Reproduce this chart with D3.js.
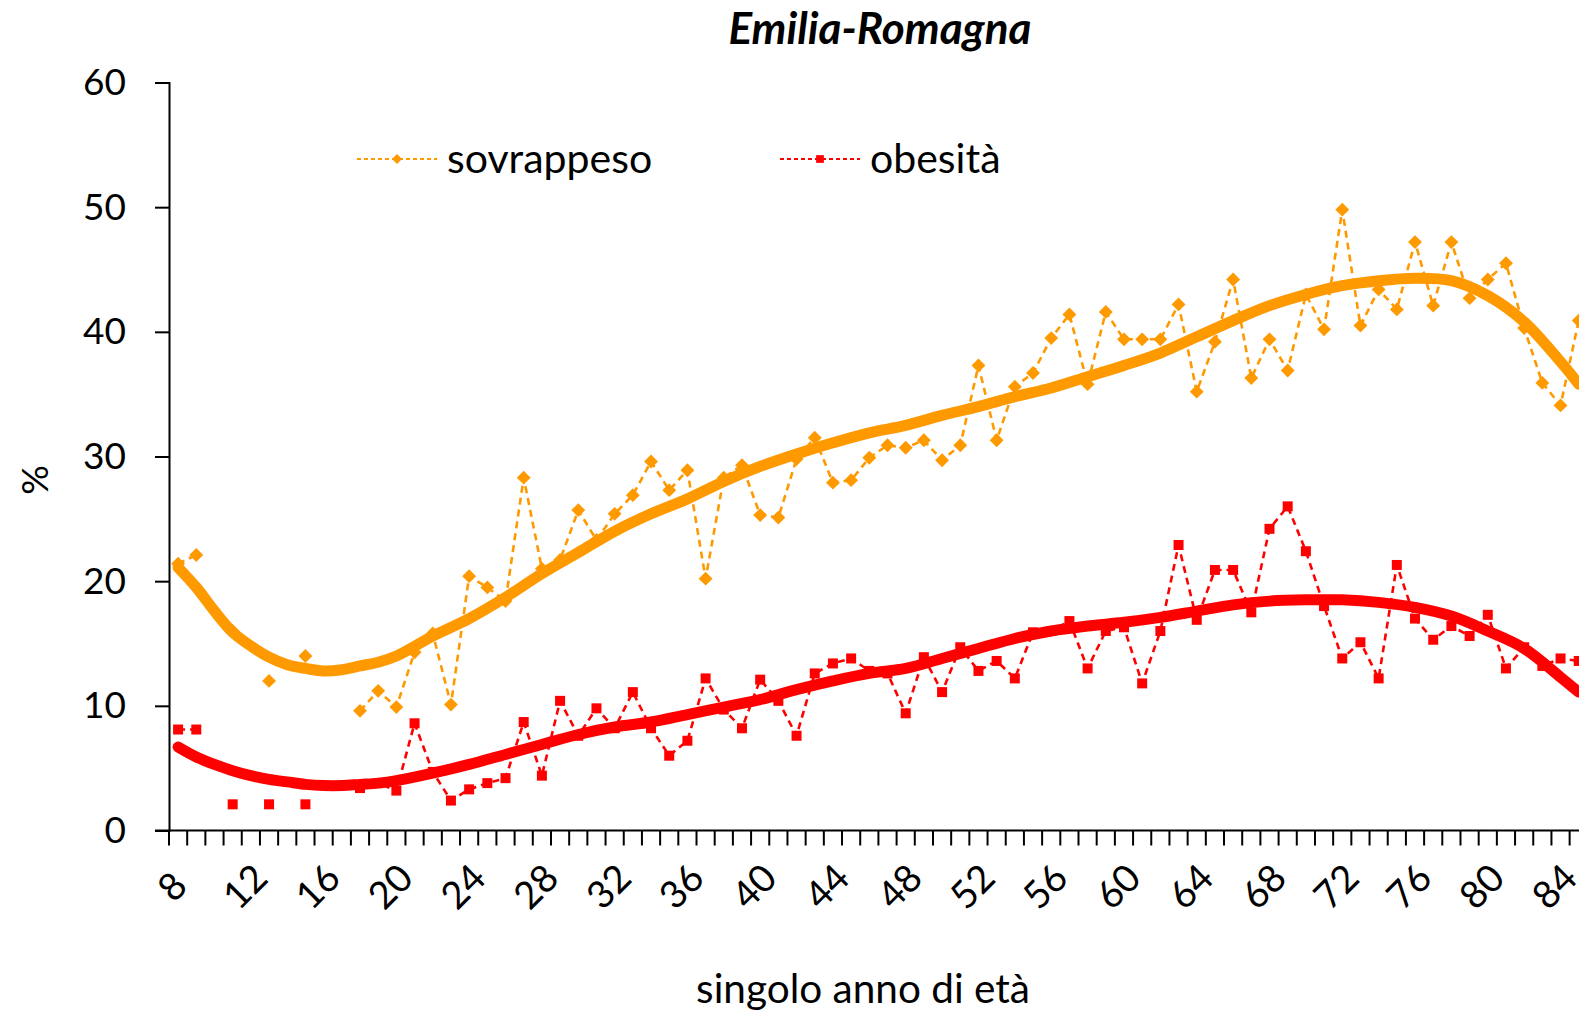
<!DOCTYPE html>
<html lang="it">
<head>
<meta charset="utf-8">
<title>Emilia-Romagna – sovrappeso e obesità per età</title>
<script src="https://cdn.jsdelivr.net/npm/d3@7"></script>
<style>
  html, body { margin: 0; padding: 0; background: #fff; overflow: hidden; }
  svg { display: block; font-family: Lato, "Open Sans", sans-serif; }
</style>
</head>
<body>
<svg id="chart" width="1579" height="1013"></svg>
<script>
// Age categories (single years) and the axis labels shown every four years
const ages = d3.range(8, 86);
const axisAges = d3.range(8, 89);
const ageLabels = [8, 12, 16, 20, 24, 28, 32, 36, 40, 44, 48, 52, 56, 60, 64, 68, 72, 76, 80, 84];
const yTicks = [0, 10, 20, 30, 40, 50, 60];

// Prevalence (%) by single year of age; null = no estimate for that age
const sovrappeso = [
  21.4, 22.1, null, 16.0, null, 12.0, null, 14.0, null, null,
   9.6, 11.2,  9.9, 14.3, 15.8, 10.1, 20.4, 19.5, 18.4, 28.3,
  21.0, 21.7, 25.7, 23.3, 25.4, 26.9, 29.6, 27.3, 28.9, 20.2,
  28.3, 29.3, 25.3, 25.1, 29.8, 31.5, 27.9, 28.1, 29.9, 30.9,
  30.7, 31.3, 29.7, 30.9, 37.3, 31.3, 35.6, 36.7, 39.5, 41.4,
  35.8, 41.6, 39.4, 39.4, 39.4, 42.2, 35.2, 39.2, 44.2, 36.3,
  39.4, 36.9, 43.0, 40.2, 49.8, 40.5, 43.4, 41.8, 47.2, 42.1,
  47.2, 42.7, 44.2, 45.5, 40.3, 35.9, 34.1, 40.9
];
const obesita = [
   8.1,  8.1, null,  2.1, null,  2.1, null,  2.1, null, null,
   3.4,  3.8,  3.2,  8.6,  4.7,  2.4,  3.3,  3.8,  4.2,  8.7,
   4.4, 10.4,  7.6,  9.8,  8.2, 11.1,  8.2,  6.0,  7.2, 12.2,
   9.7,  8.2, 12.1, 10.4,  7.6, 12.6, 13.4, 13.8, 12.8, 12.6,
   9.4, 13.9, 11.1, 14.7, 12.8, 13.6, 12.2, 15.9, 16.0, 16.8,
  13.0, 16.0, 16.3, 11.8, 16.0, 22.9, 16.9, 20.9, 20.9, 17.5,
  24.2, 26.0, 22.4, 18.0, 13.8, 15.1, 12.2, 21.3, 17.0, 15.3,
  16.4, 15.6, 17.3, 13.0, 14.7, 13.2, 13.8, 13.6
];

// Smoothed trend for each series, sampled at these ages
const trendAges = [8, 9, 10, 11, 12, 13, 14, 15, 16, 17, 18, 19, 20, 22, 24, 26, 28, 30, 32, 34,
  36, 38, 40, 42, 44, 46, 48, 50, 52, 54, 56, 58, 60, 62, 64, 66, 68, 70, 72, 74, 76, 78, 80, 82, 84, 85];
const trendSovrappeso = [21.1, 19.5, 17.6, 15.9, 14.8, 13.9, 13.3, 13.0, 12.8, 12.9, 13.2, 13.5, 14.0,
  15.6, 17.0, 18.7, 20.6, 22.3, 24.0, 25.4, 26.6, 28.0, 29.2, 30.2, 31.1, 31.9, 32.5, 33.3, 34.0,
  34.8, 35.5, 36.4, 37.3, 38.3, 39.6, 40.9, 42.1, 43.0, 43.7, 44.1, 44.3, 44.1, 42.9, 40.8, 37.6, 35.8];
const trendObesita = [6.7, 5.9, 5.3, 4.8, 4.4, 4.1, 3.9, 3.7, 3.6, 3.6, 3.7, 3.8, 4.0,
  4.6, 5.3, 6.1, 6.9, 7.7, 8.3, 8.7, 9.3, 9.9, 10.5, 11.3, 12.0, 12.6, 13.0, 13.8, 14.6,
  15.4, 16.0, 16.4, 16.7, 17.1, 17.6, 18.1, 18.4, 18.5, 18.5, 18.3, 17.9, 17.2, 16.0, 14.6, 12.3, 11.1];

const ORANGE = "#FF9900";
const RED = "#FF0000";

const svg = d3.select("#chart");
const plotLeft = 169, plotTop = 82.5, plotBottom = 830.5, step = 18.19;

const x = d3.scaleBand()
  .domain(axisAges)
  .range([plotLeft, plotLeft + step * axisAges.length])
  .paddingInner(0).paddingOuter(0);
const cx = a => x(a) + x.bandwidth() / 2;

const y = d3.scaleLinear().domain([0, 60]).range([plotBottom, plotTop]);

// Title
svg.append("text")
  .attr("x", 880).attr("y", 44)
  .attr("text-anchor", "middle")
  .attr("font-size", 44).attr("font-weight", 700).attr("font-style", "italic")
  .text("Emilia-Romagna");

// Y axis
const yAxis = d3.axisLeft(y).tickValues(yTicks).tickSize(14).tickPadding(29);
const gy = svg.append("g").attr("transform", `translate(${plotLeft},0)`).call(yAxis);
gy.select(".domain").attr("stroke", "#000").attr("stroke-width", 2);
gy.selectAll(".tick line").attr("stroke", "#000").attr("stroke-width", 2);
gy.selectAll(".tick text").attr("font-size", 37).attr("font-family", "Lato, sans-serif").attr("fill", "#000");

svg.append("text")
  .attr("transform", "translate(35,480) rotate(-90)")
  .attr("text-anchor", "middle").attr("dy", "0.35em")
  .attr("font-size", 37)
  .text("%");

// X axis: baseline, category boundary ticks, rotated labels
const gx = svg.append("g");
gx.append("line")
  .attr("x1", plotLeft - 14).attr("x2", x.range()[1])
  .attr("y1", y(0)).attr("y2", y(0))
  .attr("stroke", "#000").attr("stroke-width", 2);
gx.selectAll("line.tick")
  .data(axisAges)
  .join("line").attr("class", "tick")
  .attr("x1", d => x(d)).attr("x2", d => x(d))
  .attr("y1", y(0)).attr("y2", y(0) + 15)
  .attr("stroke", "#000").attr("stroke-width", 2);
gx.selectAll("text")
  .data(ageLabels)
  .join("text")
  .attr("transform", d => `translate(${cx(d) - 6},${y(0) + 56}) rotate(-45)`)
  .attr("text-anchor", "middle").attr("dy", "0.35em")
  .attr("font-size", 38)
  .text(d => d);

svg.append("text")
  .attr("x", 863).attr("y", 1003)
  .attr("text-anchor", "middle")
  .attr("font-size", 40.5)
  .text("singolo anno di età");

// Observed series: dashed lines with diamond / square markers
const obsLine = d3.line()
  .defined(d => d.v != null)
  .x(d => cx(d.age)).y(d => y(d.v));

function drawSeries(values, color, diamond, size) {
  const pts = ages.map((age, i) => ({ age, v: values[i] }));
  const g = svg.append("g");
  g.append("path")
    .datum(pts)
    .attr("d", obsLine)
    .attr("fill", "none").attr("stroke", color)
    .attr("stroke-width", 2.6).attr("stroke-dasharray", "7,5");
  g.selectAll("path.m")
    .data(pts.filter(d => d.v != null))
    .join("path").attr("class", "m")
    .attr("d", d3.symbol().type(d3.symbolSquare).size(size))
    .attr("transform", d => `translate(${cx(d.age)},${y(d.v)})` + (diamond ? " rotate(45)" : ""))
    .attr("fill", color);
}
drawSeries(sovrappeso, ORANGE, true, 96);
drawSeries(obesita, RED, false, 100);

// Trend lines on top
const trendLine = d3.line()
  .x((d, i) => cx(trendAges[i])).y(d => y(d))
  .curve(d3.curveCatmullRom.alpha(0.5));
svg.append("path").attr("d", trendLine(trendSovrappeso))
  .attr("fill", "none").attr("stroke", ORANGE).attr("stroke-width", 11)
  .attr("stroke-linecap", "round").attr("stroke-linejoin", "round");
svg.append("path").attr("d", trendLine(trendObesita))
  .attr("fill", "none").attr("stroke", RED).attr("stroke-width", 11)
  .attr("stroke-linecap", "round").attr("stroke-linejoin", "round");

// Legend
const legend = [
  { name: "sovrappeso", color: ORANGE, diamond: true, size: 50, x0: 357 },
  { name: "obesità", color: RED, diamond: false, size: 60, x0: 780 }
];
const lg = svg.append("g").selectAll("g").data(legend).join("g")
  .attr("transform", d => `translate(${d.x0},159)`);
lg.append("line").attr("x1", 0).attr("x2", 80).attr("y1", 0).attr("y2", 0)
  .attr("stroke", d => d.color).attr("stroke-width", 2.2).attr("stroke-dasharray", "4,3");
lg.append("path")
  .attr("d", d => d3.symbol().type(d3.symbolSquare).size(d.size)())
  .attr("transform", d => "translate(40,0)" + (d.diamond ? " rotate(45)" : ""))
  .attr("fill", d => d.color);
lg.append("text").attr("x", 90).attr("y", 0).attr("dy", "0.35em")
  .attr("font-size", 41)
  .text(d => d.name);
</script>
</body>
</html>
